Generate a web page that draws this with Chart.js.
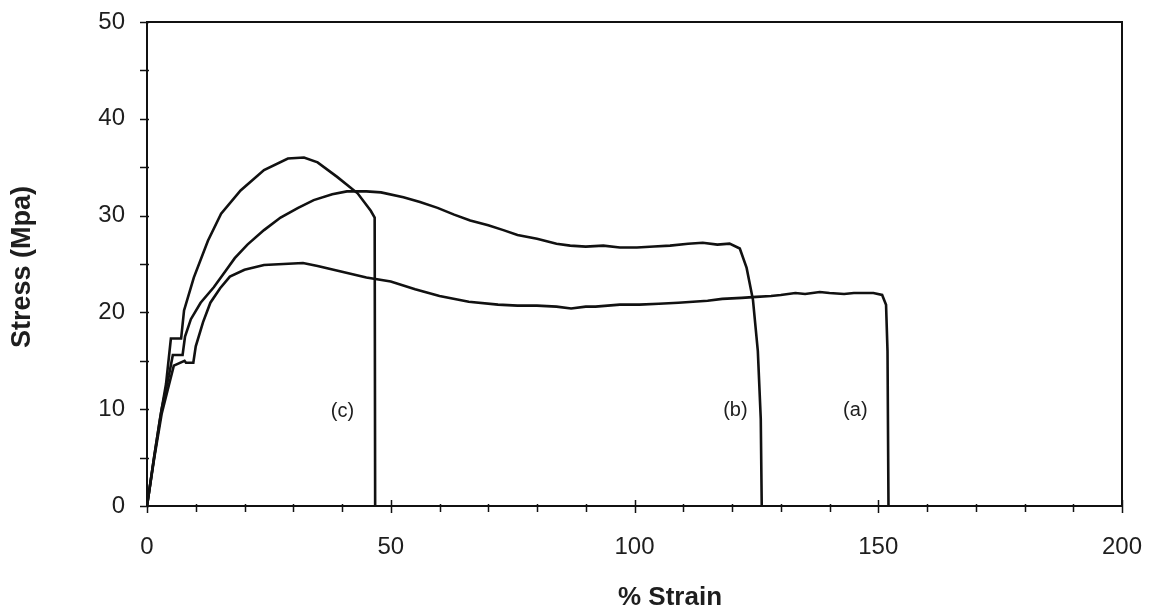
<!DOCTYPE html>
<html>
<head>
<meta charset="utf-8">
<script src="https://cdn.jsdelivr.net/npm/chart.js@4"></script>
<style>
  html, body { margin: 0; padding: 0; background: #ffffff; }
  #wrap { width: 1158px; height: 616px; }
</style>
</head>
<body>
<div id="wrap"><canvas id="c" width="1158" height="616"></canvas></div>
<script>
// ---- data ----
const strainA = [0, 1.5, 3, 4.5, 5.5, 7.7, 8.0, 9.5, 10, 11.5, 13, 15, 17, 20, 24, 28, 32, 35, 40, 45, 50, 55, 60, 66, 72, 76, 80, 84, 87, 90, 92, 97, 101, 105, 109, 112, 115, 118, 122, 125, 128, 130, 133, 135, 138, 140, 143, 145, 147, 149, 150.8, 151.6, 151.9, 152.1];
const stressA = [0, 5, 9.5, 12.5, 14.5, 15.0, 14.8, 14.8, 16.5, 19, 21, 22.5, 23.7, 24.4, 24.9, 25.0, 25.1, 24.8, 24.2, 23.6, 23.2, 22.4, 21.7, 21.1, 20.8, 20.7, 20.7, 20.6, 20.4, 20.6, 20.6, 20.8, 20.8, 20.9, 21.0, 21.1, 21.2, 21.4, 21.5, 21.6, 21.7, 21.8, 22.0, 21.9, 22.1, 22.0, 21.9, 22.0, 22.0, 22.0, 21.8, 20.8, 16, 0];

const strainB = [0, 1.5, 3, 4.5, 5.3, 7.3, 7.8, 9, 11, 13.7, 16, 18, 20.6, 24, 27.4, 31, 34.2, 38, 41, 45, 48, 52.6, 56, 59.6, 63, 66.3, 70, 73.1, 76, 80, 84, 86.8, 90, 93.6, 97, 100.5, 104, 107.3, 111, 114, 117, 119.5, 121.6, 123, 124.3, 125.3, 125.9, 126.1];
const stressB = [0, 5.2, 10, 13.5, 15.6, 15.6, 17.5, 19.3, 21, 22.6, 24.2, 25.6, 27, 28.5, 29.8, 30.8, 31.6, 32.2, 32.5, 32.5, 32.4, 31.9, 31.4, 30.8, 30.1, 29.5, 29.0, 28.5, 28.0, 27.6, 27.1, 26.9, 26.8, 26.9, 26.7, 26.7, 26.8, 26.9, 27.1, 27.2, 27.0, 27.1, 26.6, 24.6, 21.3, 16, 9, 0];

const strainC = [0, 1.3, 2.6, 3.9, 4.9, 7, 7.6, 9.6, 12.5, 15.2, 19.2, 24, 28.9, 32.2, 35, 39, 43.2, 45.9, 46.7, 46.8];
const stressC = [0, 4.5, 8.8, 12.6, 17.3, 17.3, 20.2, 23.6, 27.4, 30.2, 32.6, 34.7, 35.9, 36.0, 35.5, 34.0, 32.3, 30.5, 29.8, 0];

const curveLabels = ["(a)", "(b)", "(c)"];
const labelStrain = [145.3, 120.7, 40.1];
const labelStress = [9.9, 9.9, 9.8];

const xTitle = "% Strain";
const yTitle = "Stress (Mpa)";

const xTickStep = 50, xMinorStep = 10, xMax = 200;
const yTickStep = 10, yMinorStep = 5, yMax = 50;

function pts(xs, ys) { return xs.map((x, i) => ({ x: x, y: ys[i] })); }

const FONT = "'Liberation Sans', Arial, sans-serif";
const INK = '#111111';
const TXT = '#1e1e1e';

const boxPlugin = {
  id: 'boxTicks',
  afterDraw(chart) {
    const { ctx, chartArea: a, scales } = chart;
    const xs = scales.x, ys = scales.y;
    ctx.save();
    ctx.strokeStyle = INK;
    ctx.lineWidth = 2;
    ctx.strokeRect(a.left, a.top, a.right - a.left, a.bottom - a.top);
    ctx.lineWidth = 1.5;
    // x ticks
    for (let v = 0; v <= xMax; v += xMinorStep) {
      const px = Math.round(xs.getPixelForValue(v)) + 0.5;
      const major = v % xTickStep === 0;
      ctx.beginPath();
      ctx.moveTo(px, a.bottom - (major ? 6 : 2));
      ctx.lineTo(px, a.bottom + (major ? 7 : 6));
      ctx.stroke();
    }
    // y ticks
    for (let v = 0; v <= yMax; v += yMinorStep) {
      const py = Math.round(ys.getPixelForValue(v)) + 0.5;
      ctx.beginPath();
      ctx.moveTo(a.left - 7, py);
      ctx.lineTo(a.left + 2, py);
      ctx.stroke();
    }
    // curve labels
    ctx.fillStyle = TXT;
    ctx.font = '20px ' + FONT;
    ctx.textAlign = 'center';
    ctx.textBaseline = 'middle';
    curveLabels.forEach((t, i) => {
      ctx.fillText(t, xs.getPixelForValue(labelStrain[i]), ys.getPixelForValue(labelStress[i]));
    });
    // axis titles
    ctx.font = 'bold 26px ' + FONT;
    ctx.fillText(xTitle, 670, 598);
    ctx.save();
    ctx.translate(23, 267);
    ctx.rotate(-Math.PI / 2);
    ctx.font = 'bold 27px ' + FONT;
    ctx.fillText(yTitle, 0, 0);
    ctx.restore();
    ctx.restore();
  }
};

const lineStyle = { borderColor: INK, borderWidth: 2.6, pointRadius: 0, tension: 0, showLine: true, fill: false };

new Chart(document.getElementById('c'), {
  type: 'scatter',
  data: {
    datasets: [
      Object.assign({ label: '(a)', data: pts(strainA, stressA) }, lineStyle),
      Object.assign({ label: '(b)', data: pts(strainB, stressB) }, lineStyle),
      Object.assign({ label: '(c)', data: pts(strainC, stressC) }, lineStyle)
    ]
  },
  options: {
    responsive: false,
    animation: false,
    layout: { padding: { top: 22, right: 36, left: 0, bottom: 0 } },
    plugins: { legend: { display: false }, tooltip: { enabled: false } },
    scales: {
      x: {
        type: 'linear', min: 0, max: xMax,
        grid: { display: false, drawTicks: false },
        border: { display: false },
        ticks: { stepSize: xTickStep, padding: 27, color: TXT, font: { family: FONT, size: 24 } },
        title: { display: false },
        afterFit(s) { s.height = 110; s.paddingLeft = 0; s.paddingRight = 0; }
      },
      y: {
        type: 'linear', min: 0, max: yMax,
        grid: { display: false, drawTicks: false },
        border: { display: false },
        ticks: { stepSize: yTickStep, padding: 22, color: TXT, font: { family: FONT, size: 24 } },
        title: { display: false },
        afterFit(s) { s.width = 147; s.paddingTop = 0; s.paddingBottom = 0; }
      }
    }
  },
  plugins: [boxPlugin]
});
</script>
</body>
</html>
